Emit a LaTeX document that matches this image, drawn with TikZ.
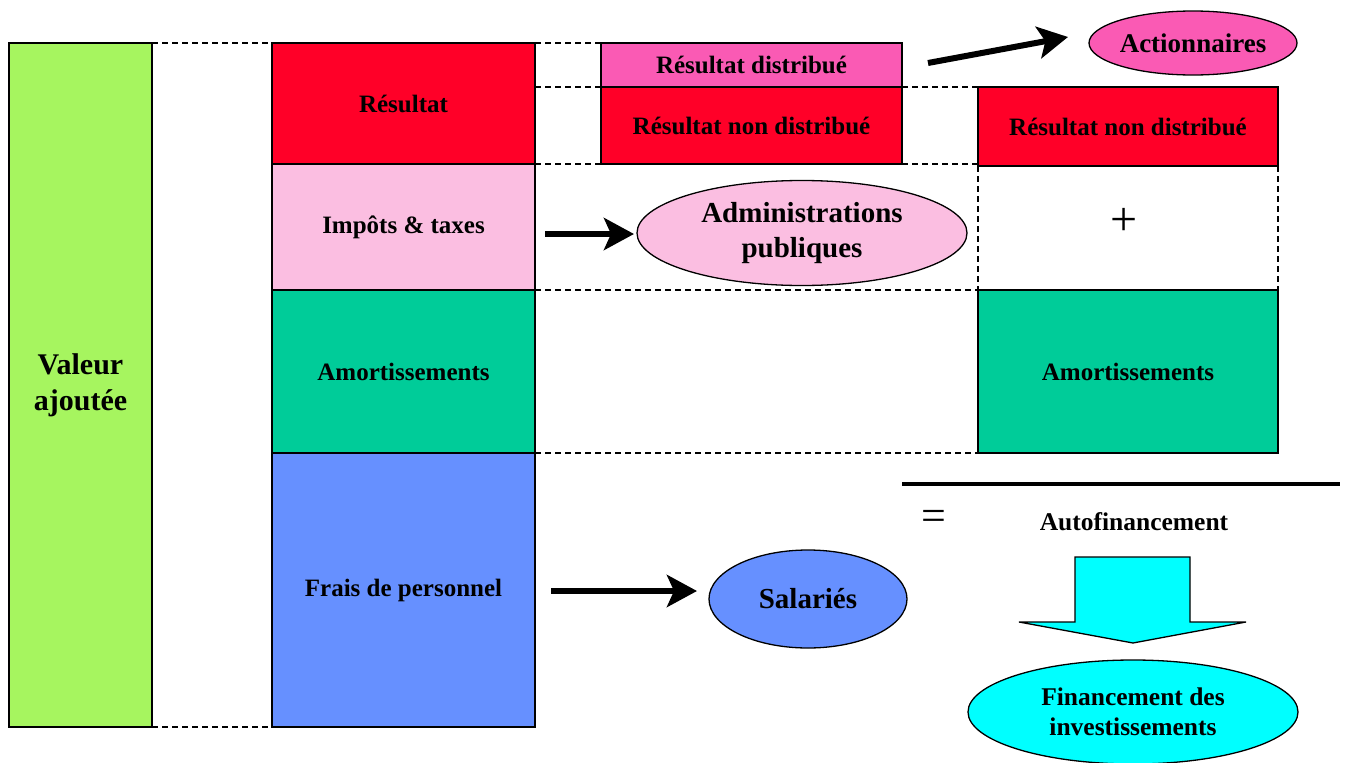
\documentclass[tikz,border=0pt]{standalone}
\usepackage{fontspec}
\setmainfont{Liberation Serif}
\usetikzlibrary{arrows.meta,shapes.geometric}
\definecolor{vagreen}{RGB}{166,245,95}
\definecolor{resred}{RGB}{255,0,40}
\definecolor{taxpink}{RGB}{251,190,225}
\definecolor{amgreen}{RGB}{0,204,153}
\definecolor{persblue}{RGB}{102,144,255}
\definecolor{distpink}{RGB}{250,90,180}
\definecolor{afcyan}{RGB}{0,255,255}
\tikzset{
  box/.style={draw=black, line width=1.3pt, rectangle, inner sep=0pt, outer sep=0pt,
    align=center, font=\bfseries\fontsize{25}{30}\selectfont},
  oval/.style={draw=black, line width=1.3pt, ellipse, inner sep=0pt, outer sep=0pt,
    align=center, font=\bfseries\fontsize{29}{35}\selectfont},
  guide/.style={dashed, dash pattern=on 6pt off 4pt, line width=1.4pt},
  flow/.style={line width=6pt, -{Stealth[length=30pt,width=32pt,inset=7pt]}},
}
\begin{document}
\begin{tikzpicture}[x=1pt,y=-1pt]
\useasboundingbox (0,0) rectangle (1345,763);

% value added column
\node[box, fill=vagreen, minimum width=143pt, minimum height=684pt,
  font=\bfseries\fontsize{30}{36}\selectfont] (va) at (80.5,385) {Valeur\\ajoutée};

% breakdown column
\node[box, fill=resred, minimum width=263pt, minimum height=121pt] (res) at (403.5,103.5) {Résultat};
\node[box, fill=taxpink, minimum width=263pt, minimum height=126pt] (tax) at (403.5,227) {Impôts \& taxes};
\node[box, fill=amgreen, minimum width=263pt, minimum height=163pt] (am) at (403.5,371.5) {Amortissements};
\node[box, fill=persblue, minimum width=263pt, minimum height=274pt] (pers) at (403.5,590) {Frais de personnel};

% split of the result
\node[box, fill=distpink, minimum width=301pt, minimum height=44pt] (dist) at (751.5,65) {Résultat distribué};
\node[box, fill=resred, minimum width=301pt, minimum height=77pt] (ndist) at (751.5,125.5) {Résultat non distribué};

% self-financing column
\node[box, fill=resred, minimum width=300pt, minimum height=79pt] (ndist2) at (1128,126.5) {Résultat non distribué};
\node[box, draw=none, minimum width=300pt, minimum height=124pt] (plus) at (1128,228) {};
\node[font=\fontsize{48}{48}\selectfont, inner sep=0pt] (plussign) at (1124,222) {+};
\draw[guide] (plus.north west) -- (plus.south west);
\draw[guide] (plus.north east) -- (plus.south east);
\node[box, fill=amgreen, minimum width=300pt, minimum height=163pt] (am2) at (1128,371.5) {Amortissements};

% dashed guides
\draw[guide] (va.north east) -- (res.north west);
\draw[guide] (va.south east) -- (pers.south west);
\draw[guide] (res.north east) -- (dist.north west);
\coordinate (r87) at (535,87);
\draw[guide] (r87) -- (ndist.north west);
\draw[guide] (ndist.north east) -- (ndist2.north west);
\draw[guide] (res.south east) -- (ndist.south west);
\draw[guide] (ndist.south east) -- (ndist.south east -| ndist2.west);
\draw[guide] (tax.south east) -- (am2.north west);
\draw[guide] (am.south east) -- (am2.south west);

% recipients
\node[oval, fill=distpink, minimum width=208pt, minimum height=64pt,
  font=\bfseries\fontsize{27}{32}\selectfont] (act) at (1193,43) {Actionnaires};
\node[oval, fill=taxpink, minimum width=330pt, minimum height=105pt] (adm) at (802,233) {Administrations\\publiques};
\node[oval, fill=persblue, minimum width=198pt, minimum height=98pt] (sal) at (808,599) {Salariés};

\coordinate (a1s) at (928,63);
\coordinate (a1e) at (1068,37);
\draw[flow] (a1s) -- (a1e);
\coordinate (a2s) at (545,234);
\coordinate (a2e) at (634,234);
\draw[flow] (a2s) -- (a2e);
\coordinate (a3s) at (551,591);
\coordinate (a3e) at (697,591);
\draw[flow] (a3s) -- (a3e);

% total line and result
\coordinate (tl) at (902,484);
\coordinate (tr) at (1340,484);
\draw[line width=4pt] (tl) -- (tr);
\node[font=\fontsize{44}{44}\selectfont, inner sep=0pt] (eq) at (934,520) {=};
\node[font=\bfseries\fontsize{25.5}{30}\selectfont, inner sep=0pt] (af) at (1134,522) {Autofinancement};

% block arrow
\draw[line width=1.3pt, fill=afcyan, line join=miter]
  (1075,557) -- (1190,557) -- (1190,622) -- (1246,622) -- (1133,643)
  -- (1019,622) -- (1075,622) -- cycle;

\node[oval, fill=afcyan, minimum width=330pt, minimum height=104pt,
  font=\bfseries\fontsize{25.5}{30}\selectfont] (fin) at (1133,712) {Financement des\\investissements};
\end{tikzpicture}
\end{document}
